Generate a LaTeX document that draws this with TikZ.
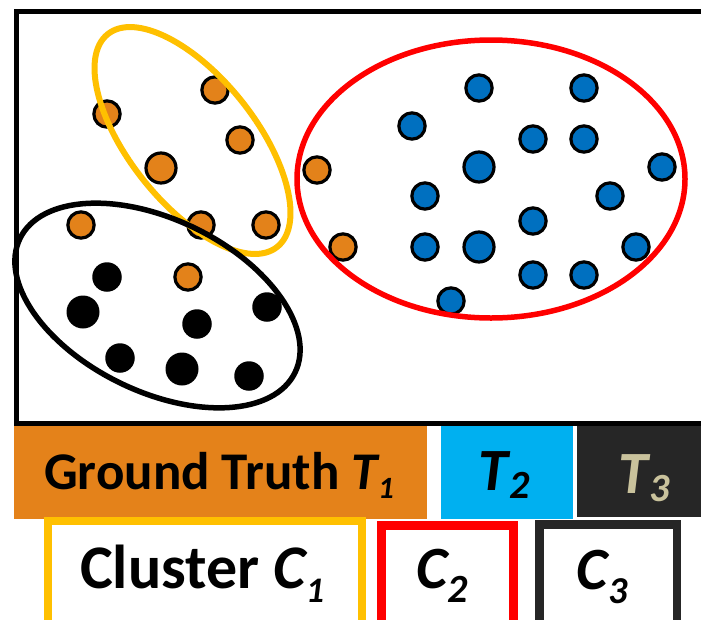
\documentclass[tikz,border=0pt]{standalone}
\usepackage{fontspec}
\setmainfont{Carlito}
\newcommand\lowsub[3]{\kern-2pt\raisebox{-#1pt}{\fontsize{#2}{#2}\selectfont\bfseries\itshape #3}}
\definecolor{hdrorange}{HTML}{E4821A}
\definecolor{dotorange}{HTML}{E3821A}
\definecolor{hdrcyan}{HTML}{00B0F0}
\definecolor{hdrdark}{HTML}{262626}
\definecolor{khaki}{HTML}{C9C29C}
\definecolor{clyellow}{HTML}{FFC000}
\definecolor{clred}{HTML}{FF0000}
\definecolor{dotblue}{HTML}{0070C0}
\begin{document}
\begin{tikzpicture}[x=1pt,y=-1pt,
  odot/.style={circle,inner sep=0pt,fill=dotorange,draw=black,line width=3.2pt,minimum size=26.3pt},
  bdot/.style={circle,inner sep=0pt,fill=dotblue,draw=black,line width=3.2pt,minimum size=26.3pt},
  kdot/.style={circle,inner sep=0pt,fill=black,minimum size=29.5pt},
  big/.style={minimum size=30pt},
  kbig/.style={minimum size=33pt},
  hdr/.style={rectangle,inner sep=0pt,anchor=north west},
  clbox/.style={rectangle,inner sep=0pt,fill=white},
  txt/.style={inner sep=0pt,anchor=base,font=\bfseries}
]
\clip (0,0) rectangle (701,619);
\fill[white] (0,0) rectangle (701,619);

% frame
\draw[line width=4.5pt] (16.7,11.7) rectangle (730,423.5);

% orange dots
\node[odot] (o1) at (215,90) {};
\node[odot] (o2) at (107,114) {};
\node[odot] (o3) at (240,140) {};
\node[odot,big] (o4) at (161,168) {};
\node[odot] (o5) at (317,170) {};
\node[odot] (o6) at (81,225) {};
\node[odot] (o7) at (201,225) {};
\node[odot] (o8) at (266,225) {};
\node[odot] (o9) at (343,247) {};
\node[odot] (o10) at (188,277) {};

% black dots
\node[kdot] (k1) at (107,277) {};
\node[kdot,kbig] (k2) at (83,312) {};
\node[kdot] (k3) at (197,324) {};
\node[kdot] (k4) at (267,307) {};
\node[kdot] (k5) at (120,358) {};
\node[kdot,kbig] (k6) at (182,369) {};
\node[kdot] (k7) at (249,376) {};

% blue dots
\node[bdot] (b1) at (479,88) {};
\node[bdot] (b2) at (584,88) {};
\node[bdot] (b3) at (412,126) {};
\node[bdot] (b4) at (533,139) {};
\node[bdot] (b5) at (584,139) {};
\node[bdot,big] (b6) at (479,167) {};
\node[bdot] (b7) at (662,167) {};
\node[bdot] (b8) at (425,196) {};
\node[bdot] (b9) at (610,196) {};
\node[bdot] (b10) at (533,221) {};
\node[bdot] (b11) at (425,247) {};
\node[bdot,big] (b12) at (479,247) {};
\node[bdot] (b13) at (636,247) {};
\node[bdot] (b14) at (533,275) {};
\node[bdot] (b15) at (584,275) {};
\node[bdot] (b16) at (451,301) {};

% cluster ellipses
\draw[clred,line width=5.5pt] (491,179) ellipse [x radius=194, y radius=139];
\draw[clyellow,line width=6pt,rotate around={-51.5:(192.5,140.5)}] (192.5,140.5) ellipse [x radius=136, y radius=63];
\draw[black,line width=5.5pt,rotate around={-26:(157.5,305.5)}] (157.5,305.5) ellipse [x radius=153, y radius=86];

% ground truth bar
\node[hdr,fill=hdrorange,minimum width=413pt,minimum height=93pt] (gtbox) at (14,425.7) {};
\node[hdr,fill=hdrcyan,minimum width=132pt,minimum height=93pt] (t2box) at (441,425.7) {};
\node[hdr,fill=hdrdark,minimum width=130pt,minimum height=91pt] (t3box) at (577,425.7) {};

\node[txt,font=\fontsize{53}{53}\selectfont\bfseries] (gt) at (219,489)
  {Ground Truth \textit{T}\lowsub{9}{31}{1}};
\node[txt,font=\fontsize{60}{60}\selectfont\bfseries] (t2) at (504,490)
  {\textit{T}\lowsub{8}{40}{2}};
\node[txt,font=\fontsize{60}{60}\selectfont\bfseries,text=khaki] (t3) at (644,493)
  {\textit{T}\lowsub{8}{40}{3}};

% cluster boxes
\node[clbox,draw=clyellow,line width=8pt,anchor=north west,minimum width=314pt,minimum height=140pt] (c1box) at (44,517) {};
\node[clbox,draw=clred,line width=9pt,anchor=north west,minimum width=132pt,minimum height=140pt] (c2box) at (376.5,520.5) {};
\node[clbox,draw=hdrdark,line width=8.5pt,anchor=north west,minimum width=137.5pt,minimum height=140pt] (c3box) at (535,520) {};

\node[txt,font=\fontsize{62}{62}\selectfont\bfseries] (c1) at (202,588)
  {Cluster \textit{C}\lowsub{14}{36}{1}};
\node[txt,font=\fontsize{60}{60}\selectfont\bfseries] (c2) at (442,588)
  {\textit{C}\lowsub{14}{40}{2}};
\node[txt,font=\fontsize{60}{60}\selectfont\bfseries] (c3) at (602,589)
  {\textit{C}\lowsub{14}{38}{3}};
\end{tikzpicture}
\end{document}
